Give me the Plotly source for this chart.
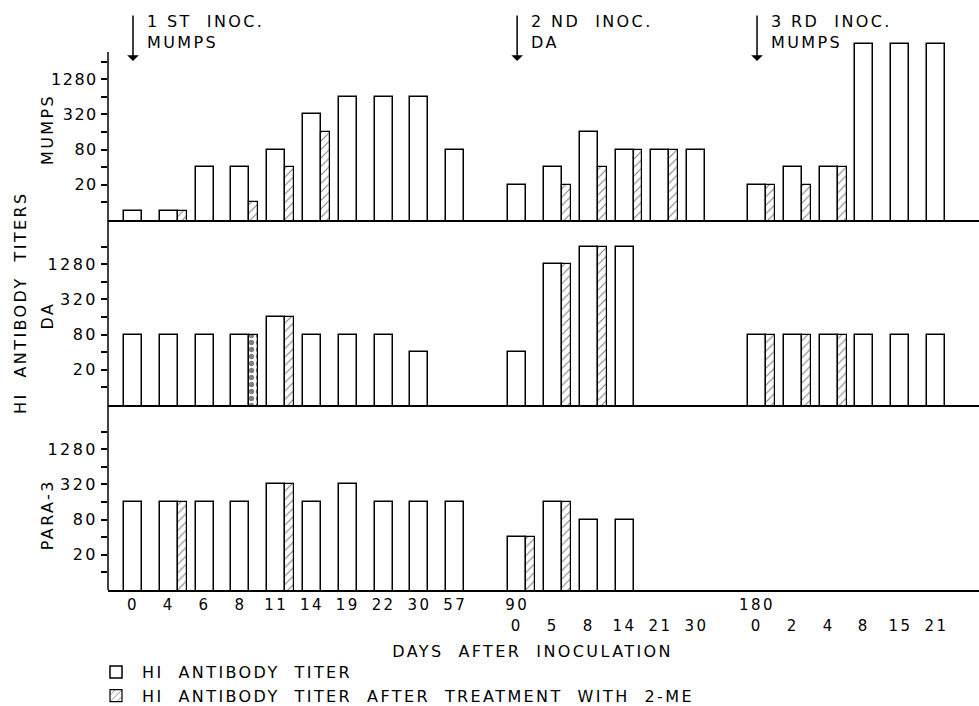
import math
import plotly.graph_objects as go
from plotly.subplots import make_subplots

# ---------------- data ----------------
GROUP1_DAYS = ["0", "4", "6", "8", "11", "14", "19", "22", "30", "57"]
GROUP2_DAYS = ["0", "5", "8", "14", "21", "30"]
GROUP3_DAYS = ["0", "2", "4", "8", "15", "21"]
GROUP_HEADERS = ["90", "180"]
INOCULATIONS = ["1 ST  INOC.<br>MUMPS", "2 ND  INOC.<br>DA", "3 RD  INOC.<br>MUMPS"]
PANELS = ["MUMPS", "DA", "PARA-3"]

# HI titers, slots = group1 (10) + group2 (6) + group3 (6)
MUMPS_HI = [7, 7, 40, 40, 80, 320, 640, 640, 640, 80,
            20, 40, 160, 80, 80, 80,
            20, 40, 40, 5120, 5120, 5120]
MUMPS_2ME = [None, 7, None, 10, 40, 160, None, None, None, None,
             None, 20, 40, 80, 80, None,
             20, 20, 40, None, None, None]
DA_HI = [80, 80, 80, 80, 160, 80, 80, 80, 40, None,
         40, 1280, 2560, 2560, None, None,
         80, 80, 80, 80, 80, 80]
DA_2ME = [None, None, None, None, 160, None, None, None, None, None,
          None, 1280, 2560, None, None, None,
          80, 80, 80, None, None, None]
DA_DOTTED = [None, None, None, 80, None, None, None, None, None, None,
             None, None, None, None, None, None,
             None, None, None, None, None, None]
PARA3_HI = [160, 160, 160, 160, 320, 160, 320, 160, 160, 160,
            40, 160, 80, 80, None, None,
            None, None, None, None, None, None]
PARA3_2ME = [None, 160, None, None, 320, None, None, None, None, None,
             40, 160, None, None, None, None,
             None, None, None, None, None, None]

Y_TICKS = [10, 20, 40, 80, 160, 320, 640, 1280, 2560]
Y_TICK_TEXT = ["", "20", "", "80", "", "320", "", "1280", ""]
LEGEND_NAMES = ["HI  ANTIBODY  TITER", "HI  ANTIBODY  TITER  AFTER  TREATMENT  WITH  2-ME"]

# ---------------- layout constants ----------------
W, H = 979, 706
L, R, T, B = 108, 0, 40, 116
PW, PH = W - L - R, H - T - B
GROUP_START = [0.0, 10.73, 17.43]
X_RANGE = [-0.698, 23.63]
BASE = 5
PX_PER_DOUBLING = 17.6
FONT = "DejaVu Sans"


def px_x(px):
    return (px - L) / PW


def px_y(py):
    return (H - B - py) / PH


groups = [GROUP1_DAYS, GROUP2_DAYS, GROUP3_DAYS]
pos = []
for g, days in enumerate(groups):
    pos += [GROUP_START[g] + i for i in range(len(days))]

fig = make_subplots(rows=3, cols=1, shared_xaxes=False, vertical_spacing=0)

panel_px = [(40, 220), (220, 405), (405, 590)]

series = [
    (MUMPS_HI, MUMPS_2ME, None),
    (DA_HI, DA_2ME, DA_DOTTED),
    (PARA3_HI, PARA3_2ME, None),
]

for r, (hi, me, dot) in enumerate(series, start=1):
    fig.add_trace(go.Bar(
        x=pos, y=hi, width=0.5, name=LEGEND_NAMES[0],
        legendgroup="hi", showlegend=(r == 1),
        marker=dict(color="white", line=dict(color="black", width=1.5)),
    ), row=r, col=1)
    fig.add_trace(go.Bar(
        x=[p + 0.375 for p in pos], y=me, width=0.25, name=LEGEND_NAMES[1],
        legendgroup="me", showlegend=(r == 1),
        marker=dict(color="white", line=dict(color="black", width=1.2),
                    pattern=dict(shape="/", fgcolor="black", bgcolor="white",
                                 size=6, solidity=0.18)),
    ), row=r, col=1)
    if dot is not None:
        fig.add_trace(go.Bar(
            x=[p + 0.375 for p in pos], y=dot, width=0.25, showlegend=False,
            marker=dict(color="white", line=dict(color="black", width=1.2),
                        pattern=dict(shape=".", fgcolor="black", bgcolor="white",
                                     size=7, solidity=0.45)),
        ), row=r, col=1)

for r in range(1, 4):
    top, bot = panel_px[r - 1]
    n_doub = (bot - top) / PX_PER_DOUBLING
    lo = math.log10(BASE)
    fig.update_yaxes(
        type="log", range=[lo, lo + n_doub * math.log10(2)],
        domain=[px_y(bot), px_y(top)],
        tickvals=Y_TICKS, ticktext=Y_TICK_TEXT,
        ticks="outside", ticklen=6, tickwidth=1.5, tickcolor="black",
        showgrid=False, zeroline=False, showline=False,
        tickfont=dict(family=FONT, size=16, color="black"),
        row=r, col=1)
    fig.update_xaxes(
        range=X_RANGE, showline=True, linecolor="black", linewidth=1.5,
        showgrid=False, zeroline=False, ticks="",
        showticklabels=(r == 3), row=r, col=1)

fig.update_xaxes(
    tickvals=pos[:len(GROUP1_DAYS)] + [GROUP_START[1], GROUP_START[2]],
    ticktext=GROUP1_DAYS + GROUP_HEADERS,
    tickfont=dict(family=FONT, size=15, color="black"),
    row=3, col=1)

shapes = [dict(type="line", xref="paper", yref="paper", x0=0, x1=0,
               y0=0, y1=px_y(52), line=dict(color="black", width=1.5))]

ann = []
font = dict(family=FONT, size=16, color="black")
ann.append(dict(text="HI  ANTIBODY  TITERS", xref="paper", yref="paper",
                x=px_x(20), y=px_y(303), xanchor="center", yanchor="middle",
                textangle=-90, showarrow=False, font=font))
for name, yc in zip(PANELS, [130, 316, 515]):
    ann.append(dict(text=name, xref="paper", yref="paper", x=px_x(47), y=px_y(yc),
                    xanchor="center", yanchor="middle",
                    textangle=-90, showarrow=False, font=font))

for g, text in enumerate(INOCULATIONS):
    xs = GROUP_START[g]
    ann.append(dict(text="", x=xs, xref="x", y=px_y(61), yref="paper",
                    showarrow=True, ax=0, ay=-47, arrowhead=1, arrowsize=1.3,
                    arrowwidth=1.5, arrowcolor="black"))
    ann.append(dict(text=text, x=xs, xref="x", xshift=12, xanchor="left",
                    y=px_y(10), yref="paper", yanchor="top", align="left",
                    showarrow=False, font=font))

for g, days in [(1, GROUP2_DAYS), (2, GROUP3_DAYS)]:
    for i, d in enumerate(days):
        ann.append(dict(text=d, x=GROUP_START[g] + i, xref="x3", y=px_y(626),
                        yref="paper", xanchor="center", yanchor="middle",
                        showarrow=False, font=dict(family=FONT, size=15, color="black")))

ann.append(dict(text="DAYS  AFTER  INOCULATION", xref="paper", yref="paper",
                x=px_x(532), y=px_y(651), xanchor="center", yanchor="middle",
                showarrow=False, font=font))

fig.update_layout(
    width=W, height=H,
    margin=dict(l=L, r=R, t=T, b=B, autoexpand=False),
    paper_bgcolor="white", plot_bgcolor="white",
    barmode="overlay", bargap=0,
    shapes=shapes, annotations=ann,
    legend=dict(x=px_x(90), y=px_y(655), xanchor="left", yanchor="top",
                font=dict(family=FONT, size=16, color="black"),
                bgcolor="rgba(0,0,0,0)", tracegroupgap=0, itemwidth=42),
    font=dict(family=FONT, color="black"),
)

CSS = (".js-plotly-plot text { letter-spacing: 2.4px; }"
       " .js-plotly-plot .xtick text, .js-plotly-plot .ytick text { letter-spacing: 1.5px; }"
       " .js-plotly-plot .legend .scrollbox { clip-path: none !important; }"
       " .js-plotly-plot .legend { clip-path: none !important; }")
POST = ("var s=document.createElement('style');s.textContent=" + repr(CSS) +
        ";document.head.appendChild(s);")

fig.write_html("out.html", post_script=POST)
